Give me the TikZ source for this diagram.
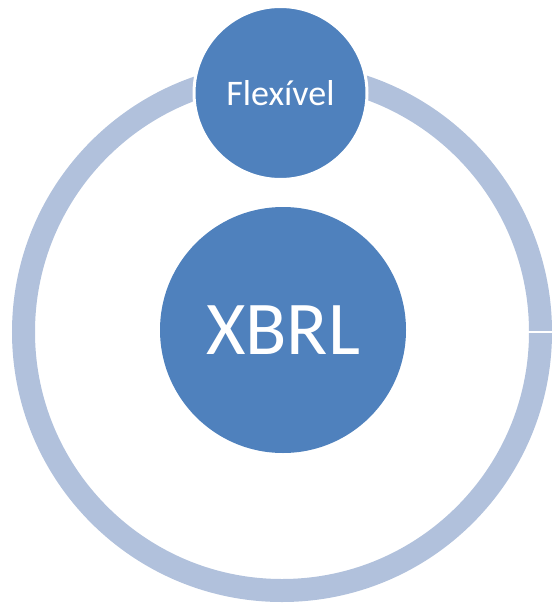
\documentclass[tikz,border=0pt]{standalone}
\usepackage{fontspec}
\setmainfont{Carlito}
\definecolor{nodeblue}{HTML}{4F81BD}
\definecolor{ringblue}{HTML}{B1C1DC}
\begin{document}
\begin{tikzpicture}[x=1pt,y=-1pt,
  bubble/.style={circle, fill=nodeblue, text=white, inner sep=0pt, font=#1},
  ringstyle/.style={draw=ringblue, line width=23pt}]
\useasboundingbox (0,0) rectangle (554,605);
\coordinate (rc) at (282,332);
\draw[ringstyle] (rc) circle[radius=258.5];
\coordinate (cutin) at (528,332);
\coordinate (cutout) at (556,332);
\draw[white, line width=1.2pt] (cutin) -- (cutout);
\node[bubble={\fontsize{76}{80}\selectfont}, minimum size=246pt] (xbrl) at (283,330) {XBRL};
\node[bubble={\fontsize{36}{40}\selectfont}, minimum size=173pt, draw=white, line width=3pt] (flex) at (280.5,93) {Flexível};
\end{tikzpicture}
\end{document}
